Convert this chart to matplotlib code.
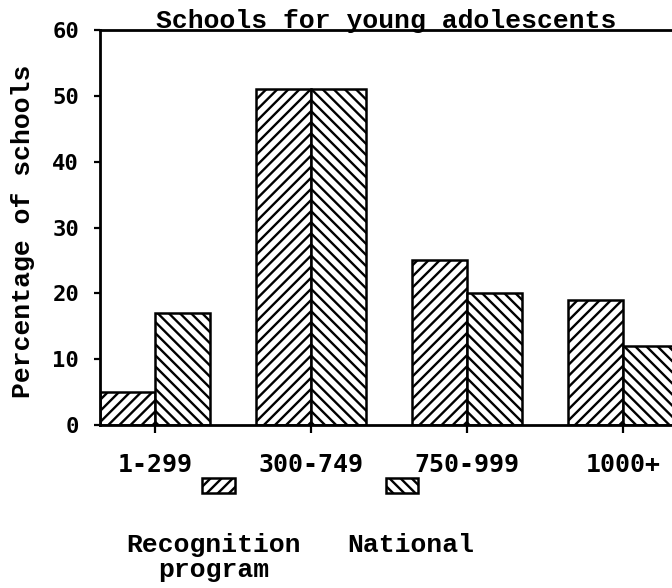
import matplotlib
matplotlib.use("Agg")
import matplotlib.pyplot as plt
from matplotlib.patches import Rectangle
import numpy as np

# Data
categories = ["1-299", "300-749", "750-999", "1000+"]
recognition = [5, 51, 25, 19]
national = [17, 51, 20, 12]
yticks = [0, 10, 20, 30, 40, 50, 60]

plt.rcParams["hatch.linewidth"] = 1.7
plt.rcParams["hatch.color"] = "black"

serif_mono = "Liberation Mono"
tick_font = "DejaVu Sans Mono"

fig = plt.figure(figsize=(6.72, 5.88), dpi=100)
ax = fig.add_axes([100 / 672, 163 / 588, 1 - 100 / 672, 395 / 588])

x = np.arange(len(categories))
w = 0.352
ax.bar(x - w / 2, recognition, w, facecolor="white", edgecolor="black",
       linewidth=1.8, hatch="///")
ax.bar(x + w / 2, national, w, facecolor="white", edgecolor="black",
       linewidth=1.8, hatch="\\\\\\")

ax.set_xlim(-w, 3.314)
ax.set_ylim(0, 60)
ax.set_yticks(yticks)
ax.set_xticks(x)
ax.set_xticklabels(categories)

ax.spines["right"].set_visible(False)
for s in ["left", "top", "bottom"]:
    ax.spines[s].set_linewidth(2)

ax.tick_params(axis="x", direction="out", length=6, width=1.6, pad=14)
ax.tick_params(axis="y", direction="out", length=4, width=1.6, pad=11)
for lab in ax.get_xticklabels():
    lab.set_fontfamily(tick_font)
    lab.set_fontweight("bold")
    lab.set_fontsize(18)
for lab in ax.get_yticklabels():
    lab.set_fontfamily(tick_font)
    lab.set_fontweight("bold")
    lab.set_fontsize(16)

# title sits right on the top line
ax.text(0.5, 1.004, "Schools for young adolescents", transform=ax.transAxes,
        ha="center", va="baseline", fontsize=19, fontweight="bold",
        family=serif_mono)

fig.text(23 / 672, 1 - 231 / 588, "Percentage of schools", rotation=90,
         ha="center", va="center", fontsize=19, fontweight="bold",
         family=serif_mono)

# legend: small hatched boxes with labels further down
fig.add_artist(Rectangle((202 / 672, 1 - 493 / 588), 33 / 672, 15 / 588,
                         transform=fig.transFigure, facecolor="white",
                         edgecolor="black", linewidth=1.8, hatch="///"))
fig.add_artist(Rectangle((386 / 672, 1 - 493 / 588), 32 / 672, 15 / 588,
                         transform=fig.transFigure, facecolor="white",
                         edgecolor="black", linewidth=1.8, hatch="\\\\\\"))
fig.text(214 / 672, 1 - 545 / 588, "Recognition", ha="center",
         va="center", fontsize=19, fontweight="bold", family=serif_mono)
fig.text(214 / 672, 1 - 570 / 588, "program", ha="center",
         va="center", fontsize=19, fontweight="bold", family=serif_mono)
fig.text(411 / 672, 1 - 545 / 588, "National", ha="center", va="center",
         fontsize=19, fontweight="bold", family=serif_mono)

fig.savefig("out.png", dpi=100)
